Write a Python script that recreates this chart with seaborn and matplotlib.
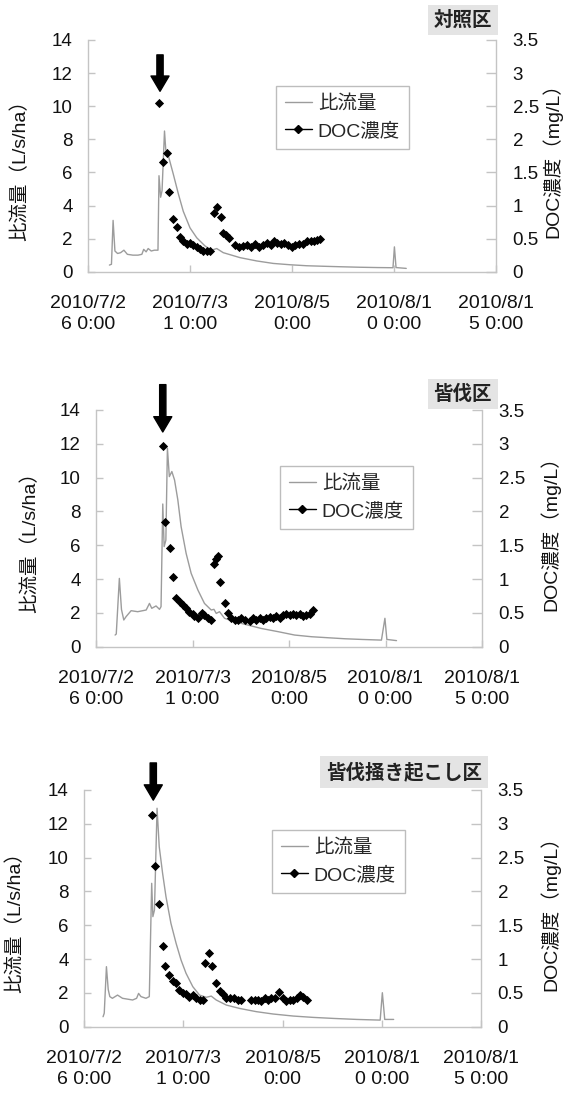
import numpy as np
import pandas as pd
import seaborn as sns
import matplotlib
matplotlib.use("Agg")
import matplotlib.pyplot as plt
from matplotlib.lines import Line2D

sns.set_theme(style="white")
plt.rcParams['font.family'] = ['Liberation Sans', 'Noto Sans CJK JP']
plt.rcParams['axes.unicode_minus'] = False

# ---------------- shared axis texts ----------------
x_tick_days = [0, 5, 10, 15, 20]          # days since 2010/7/26 0:00
x_tick_labels = ["2010/7/2\n6 0:00", "2010/7/3\n1 0:00", "2010/8/5\n0:00",
                 "2010/8/1\n0 0:00", "2010/8/1\n5 0:00"]
flow_ticks = [0, 2, 4, 6, 8, 10, 12, 14]
doc_ticks = [0, 0.5, 1, 1.5, 2, 2.5, 3, 3.5]
doc_tick_labels = ["0", "0.5", "1", "1.5", "2", "2.5", "3", "3.5"]
flow_label = "比流量（L/s/ha）"
doc_label = "DOC濃度（mg/L）"
legend_labels = ["比流量", "DOC濃度"]
titles = ["対照区", "皆伐区", "皆伐掻き起こし区"]

# ---------------- panel 1: 対照区 ----------------
ctrl_flow_day = [1.05, 1.15, 1.23, 1.32, 1.45, 1.60, 1.76, 1.93, 2.20, 2.45,
                 2.64, 2.73, 2.85, 2.95, 3.10, 3.25, 3.43, 3.48, 3.56, 3.63,
                 3.75, 3.81, 3.94, 4.18, 4.43, 4.67, 5.00, 5.33, 5.74, 6.06,
                 6.31, 6.63, 7.45, 8.27, 9.08, 9.90, 10.72, 11.50, 12.35, 13.30,
                 14.20, 14.95, 15.02, 15.10, 15.60]
ctrl_flow = [0.40, 0.45, 3.10, 1.25, 1.10, 1.15, 1.30, 1.05, 1.00, 1.00,
             1.05, 1.35, 1.20, 1.40, 1.25, 1.30, 1.30, 5.80, 4.50, 4.90,
             8.50, 7.40, 7.00, 5.90, 4.70, 3.65, 2.65, 2.05, 1.55, 1.30,
             1.40, 1.15, 0.85, 0.65, 0.50, 0.42, 0.36, 0.33, 0.30, 0.27,
             0.25, 0.24, 1.50, 0.25, 0.20]
ctrl_doc_day = [3.50, 3.69, 3.89, 3.99, 4.18, 4.35, 4.51, 4.67, 4.84, 5.00,
                5.16, 5.33, 5.49, 5.65, 5.82, 5.98, 6.18, 6.34, 6.50, 6.63,
                6.76, 6.90, 7.21, 7.42, 7.62, 7.81, 7.97, 8.19, 8.37, 8.56,
                8.76, 8.96, 9.12, 9.28, 9.44, 9.61, 9.80, 10.00, 10.16, 10.36,
                10.56, 10.72, 10.92, 11.08, 11.24, 11.37]
ctrl_doc = [2.55, 1.65, 1.80, 1.20, 0.80, 0.68, 0.52, 0.46, 0.42, 0.44,
            0.40, 0.38, 0.34, 0.32, 0.32, 0.32, 0.89, 0.98, 0.82, 0.58,
            0.55, 0.51, 0.40, 0.38, 0.39, 0.41, 0.38, 0.42, 0.38, 0.40,
            0.43, 0.41, 0.46, 0.43, 0.42, 0.43, 0.41, 0.38, 0.40, 0.42,
            0.42, 0.46, 0.46, 0.47, 0.48, 0.49]

# ---------------- panel 2: 皆伐区 ----------------
cc_flow_day = [0.99, 1.05, 1.21, 1.32, 1.44, 1.56, 1.82, 2.16, 2.60, 2.77,
               2.89, 3.11, 3.29, 3.37, 3.46, 3.53, 3.62, 3.70, 3.80, 3.93,
               4.07, 4.24, 4.41, 4.67, 4.93, 5.28, 5.62, 5.97, 6.11, 6.23,
               6.40, 6.66, 7.18, 7.87, 8.56, 9.43, 10.29, 11.16, 12.02, 12.89,
               13.75, 14.79, 14.97, 15.07, 15.57]
cc_flow = [0.69, 0.75, 4.04, 2.20, 1.58, 1.78, 2.13, 2.07, 2.17, 2.56,
           2.27, 2.41, 2.21, 2.37, 8.44, 5.92, 6.30, 11.74, 10.06, 10.36,
           9.86, 8.68, 7.10, 5.52, 4.34, 3.35, 2.56, 2.17, 2.21, 1.97,
           2.07, 1.68, 1.48, 1.28, 1.08, 0.89, 0.69, 0.59, 0.53, 0.47,
           0.43, 0.39, 1.68, 0.43, 0.36]
cc_doc_day = [3.46, 3.60, 3.86, 4.00, 4.15, 4.33, 4.50, 4.67, 4.84, 5.02,
              5.10, 5.31, 5.48, 5.62, 5.80, 5.97, 6.10, 6.22, 6.33, 6.45,
              6.66, 6.83, 7.01, 7.18, 7.35, 7.53, 7.70, 7.96, 8.13, 8.30,
              8.48, 8.65, 8.82, 9.00, 9.17, 9.34, 9.52, 9.69, 9.86, 10.03,
              10.21, 10.38, 10.55, 10.73, 10.90, 11.07, 11.25]
cc_doc = [2.97, 1.85, 1.46, 1.03, 0.72, 0.66, 0.62, 0.57, 0.52, 0.49,
          0.45, 0.42, 0.50, 0.47, 0.43, 0.39, 1.22, 1.29, 1.34, 0.95,
          0.65, 0.50, 0.43, 0.40, 0.39, 0.43, 0.39, 0.38, 0.42, 0.40,
          0.42, 0.39, 0.43, 0.44, 0.42, 0.45, 0.43, 0.47, 0.49, 0.47,
          0.48, 0.47, 0.49, 0.45, 0.47, 0.49, 0.54]

# ---------------- panel 3: 皆伐掻き起こし区 ----------------
sc_flow_day = [0.96, 1.02, 1.13, 1.22, 1.30, 1.43, 1.69, 1.94, 2.45, 2.65,
               2.75, 2.87, 3.12, 3.29, 3.41, 3.47, 3.55, 3.68, 3.79, 3.96,
               4.13, 4.38, 4.64, 4.89, 5.14, 5.48, 5.82, 6.16, 6.41, 6.66,
               7.17, 7.84, 8.68, 9.53, 10.54, 11.55, 12.56, 13.74, 14.92, 15.03,
               15.15, 15.60]
sc_flow = [0.59, 0.80, 3.55, 2.20, 1.78, 1.68, 1.87, 1.68, 1.58, 1.68,
           1.97, 1.78, 1.68, 1.78, 8.48, 6.51, 6.90, 12.92, 10.65, 9.07,
           7.69, 6.11, 4.93, 3.94, 3.16, 2.37, 1.87, 1.74, 1.81, 1.58,
           1.28, 1.08, 0.89, 0.75, 0.63, 0.55, 0.49, 0.43, 0.39, 2.01,
           0.43, 0.43]
sc_doc_day = [3.41, 3.59, 3.79, 3.96, 4.10, 4.30, 4.47, 4.64, 4.81, 4.97,
              5.14, 5.31, 5.48, 5.65, 5.82, 5.99, 6.12, 6.29, 6.46, 6.66,
              6.83, 7.00, 7.17, 7.34, 7.54, 7.76, 7.93, 8.43, 8.60, 8.77,
              8.94, 9.11, 9.27, 9.44, 9.61, 9.83, 10.00, 10.20, 10.37, 10.54,
              10.71, 10.88, 11.05, 11.21]
sc_doc = [3.13, 2.38, 1.82, 1.19, 0.90, 0.76, 0.67, 0.64, 0.54, 0.50,
          0.49, 0.44, 0.47, 0.42, 0.40, 0.40, 0.94, 1.09, 0.90, 0.65,
          0.53, 0.48, 0.43, 0.42, 0.42, 0.40, 0.39, 0.40, 0.39, 0.39,
          0.38, 0.42, 0.39, 0.42, 0.43, 0.51, 0.42, 0.38, 0.40, 0.39,
          0.42, 0.47, 0.44, 0.40]

# arrow (day, tip value, tail value) on the flow axis
arrows = [(3.53, 10.9, 13.1), (3.46, 12.7, 15.5), (3.49, 13.4, 15.6)]

W, H = 563, 1095
fig = plt.figure(figsize=(W / 100, H / 100), dpi=100)

# axes boxes in pixels: left, right, top, bottom
boxes = [(88, 496, 40, 271.7), (96, 482, 410, 646.7), (84, 481, 790, 1026.7)]
legend_anchor = [(276, 86), (280, 466), (272, 830)]
title_pos = [(492, 20), (492, 394), (482, 772)]
ylab_left_x = [29, 39, 24]      # right edge of rotated left label (px)
ylab_right_x = [542, 540, 540]  # left edge of rotated right label (px)

panels = [
    (ctrl_flow_day, ctrl_flow, ctrl_doc_day, ctrl_doc),
    (cc_flow_day, cc_flow, cc_doc_day, cc_doc),
    (sc_flow_day, sc_flow, sc_doc_day, sc_doc),
]

FLOW_C = "#9c9c9c"
SPINE_C = "#c4c4c4"

for i, (fd, fv, dd, dv) in enumerate(panels):
    l, r, t, b = boxes[i]
    ax = fig.add_axes([l / W, 1 - b / H, (r - l) / W, (b - t) / H])
    flow_df = pd.DataFrame({"day": fd, "flow": fv})
    doc_df = pd.DataFrame({"day": dd, "doc": dv})

    sns.lineplot(data=flow_df, x="day", y="flow", ax=ax, color=FLOW_C,
                 linewidth=1.0, estimator=None, sort=False, legend=False)
    ax.set_xlim(0, 20)
    ax.set_ylim(0, 14)
    ax.set_xticks(x_tick_days)
    ax.set_xticklabels(x_tick_labels, linespacing=1.3)
    ax.set_yticks(flow_ticks)
    ax.set_yticklabels([str(v) for v in flow_ticks])
    ax.tick_params(axis="y", left=True, direction="in", length=5, width=1,
                   color=SPINE_C, pad=11, labelsize=13.5, labelcolor="#111111")
    ax.tick_params(axis="x", bottom=True, direction="in", length=5, width=1,
                   color=SPINE_C, pad=17, labelsize=14, labelcolor="#111111")
    ax.set_xlabel("")
    ax.set_ylabel(flow_label, fontsize=14, color="#111111")
    ax.yaxis.set_label_coords((ylab_left_x[i] - l) / (r - l), 0.46)
    for s in ["top", "right"]:
        ax.spines[s].set_visible(False)
    for s in ["left", "bottom"]:
        ax.spines[s].set_color(SPINE_C)
        ax.spines[s].set_linewidth(1.0)

    ax2 = ax.twinx()
    sns.scatterplot(data=doc_df, x="day", y="doc", ax=ax2, marker="D",
                    color="black", s=22, linewidth=0, legend=False, zorder=3)
    ax2.set_ylim(0, 3.5)
    ax2.set_yticks(doc_ticks)
    ax2.set_yticklabels(doc_tick_labels)
    ax2.tick_params(axis="y", right=True, direction="in", length=7, width=1,
                    color=SPINE_C, pad=12, labelsize=13.5, labelcolor="#111111")
    ax2.set_ylabel(doc_label, fontsize=14, color="#111111", rotation=90)
    ax2.yaxis.set_label_coords((ylab_right_x[i] - l) / (r - l), 0.5)
    for s in ["top", "left", "bottom"]:
        ax2.spines[s].set_visible(False)
    ax2.spines["right"].set_color(SPINE_C)
    ax2.spines["right"].set_linewidth(1.0)
    ax2.set_xlim(0, 20)

    # arrow marking the event
    day, tip, tail = arrows[i]
    ax.annotate("", xy=(day, tip), xytext=(day, tail),
                arrowprops=dict(facecolor="black", edgecolor="black",
                                width=4.5, headwidth=13, headlength=11,
                                shrink=0),
                annotation_clip=False, zorder=5)

    # legend
    handles = [Line2D([], [], color=FLOW_C, lw=1.0),
               Line2D([], [], color="black", lw=1.0, marker="D",
                      markersize=4)]
    lx, ly = legend_anchor[i]
    leg = ax2.legend(handles, legend_labels, loc="upper left",
                     bbox_to_anchor=(lx / W, 1 - ly / H),
                     bbox_transform=fig.transFigure, fontsize=14,
                     frameon=True, fancybox=False, framealpha=1,
                     edgecolor="#bdbdbd", handlelength=1.4,
                     handletextpad=0.3, borderpad=0.45, labelspacing=0.5,
                     borderaxespad=0)
    leg.get_frame().set_linewidth(1.0)

    # panel title tag
    tx, ty = title_pos[i]
    fig.text(tx / W, 1 - ty / H, titles[i], ha="right", va="center",
             fontsize=14, fontweight="bold", color="#222222",
             bbox=dict(facecolor="#e4e4e4", edgecolor="none",
                       boxstyle="square,pad=0.3"))

fig.savefig("out.png", dpi=100)
